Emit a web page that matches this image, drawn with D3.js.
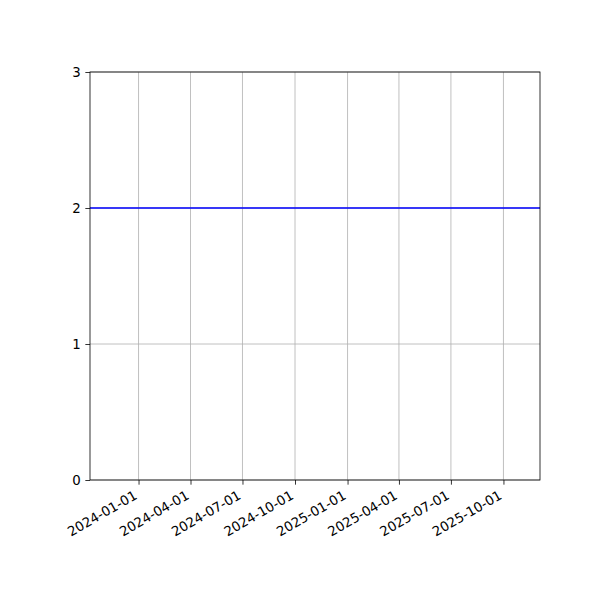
<!DOCTYPE html>
<html>
<head>
<meta charset="utf-8">
<script src="https://cdn.jsdelivr.net/npm/d3@7"></script>
<style>
  body { margin: 0; background: #fff; }
  svg text { font-family: "DejaVu Sans", sans-serif; font-size: 13.33px; fill: #000; }
</style>
</head>
<body>
<svg id="chart" width="600" height="600"></svg>
<script>
// data
const dates = ["2023-10-08", "2025-12-04"];
const values = [2, 2];
const xTicks = ["2024-01-01", "2024-04-01", "2024-07-01", "2024-10-01",
                "2025-01-01", "2025-04-01", "2025-07-01", "2025-10-01"];
const yTicks = [0, 1, 2, 3];

const parse = d3.timeParse("%Y-%m-%d");
const fmt = d3.timeFormat("%Y-%m-%d");

const margin = { left: 90, right: 60, top: 72, bottom: 120 };
const width = 600, height = 600;

const svg = d3.select("#chart");

const points = dates.map((d, i) => ({ date: parse(d), value: values[i] }));

const x = d3.scaleTime()
    .domain(d3.extent(points, d => d.date))
    .range([margin.left, width - margin.right]);

const y = d3.scaleLinear()
    .domain([0, 3])
    .range([height - margin.bottom, margin.top]);

const tickDates = xTicks.map(parse);

// grid
const grid = svg.append("g");
grid.selectAll("line.vx")
    .data(tickDates)
    .enter().append("line")
    .attr("x1", d => x(d)).attr("x2", d => x(d))
    .attr("y1", y(0)).attr("y2", y(3))
    .attr("stroke", "#b0b0b0").attr("stroke-width", 0.8);
grid.selectAll("line.hy")
    .data(yTicks)
    .enter().append("line")
    .attr("x1", margin.left).attr("x2", width - margin.right)
    .attr("y1", d => y(d)).attr("y2", d => y(d))
    .attr("stroke", "#b0b0b0").attr("stroke-width", 0.8);

// the line
const line = d3.line()
    .x(d => x(d.date))
    .y(d => y(d.value));

svg.append("path")
    .datum(points)
    .attr("d", line)
    .attr("fill", "none")
    .attr("stroke", "#0000ff")
    .attr("stroke-width", 1.5);

// axes
const xAxis = svg.append("g")
    .attr("transform", `translate(0,${height - margin.bottom})`)
    .call(d3.axisBottom(x).tickValues(tickDates).tickFormat(fmt).tickSizeInner(4.67).tickSizeOuter(0));
xAxis.select(".domain").remove();
xAxis.selectAll("line").attr("stroke", "#000").attr("stroke-width", 0.8);
// rotated labels like autofmt_xdate (30 deg, right aligned)
xAxis.selectAll("text")
    .attr("font-family", "DejaVu Sans")
    .attr("font-size", 13.33)
    .style("text-anchor", "end")
    .attr("x", 0).attr("y", 0).attr("dy", null)
    .attr("transform", "translate(-1,18) rotate(-30)");

const yAxis = svg.append("g")
    .attr("transform", `translate(${margin.left},0)`)
    .call(d3.axisLeft(y).tickValues(yTicks).tickFormat(d3.format("d")).tickSizeInner(4.67).tickSizeOuter(0).tickPadding(4.67));
yAxis.select(".domain").remove();
yAxis.selectAll("line").attr("stroke", "#000").attr("stroke-width", 0.8);
yAxis.selectAll("text").attr("font-family", "DejaVu Sans").attr("font-size", 13.33);

// frame
svg.append("rect")
    .attr("x", margin.left).attr("y", margin.top)
    .attr("width", width - margin.left - margin.right)
    .attr("height", height - margin.top - margin.bottom)
    .attr("fill", "none")
    .attr("stroke", "#000")
    .attr("stroke-width", 0.8);
</script>
</body>
</html>
